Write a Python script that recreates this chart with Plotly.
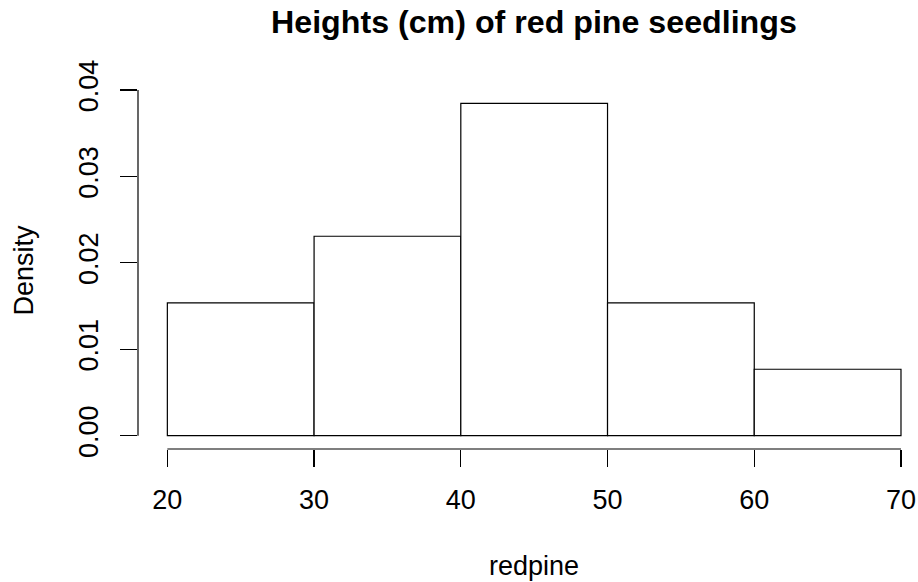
import plotly.graph_objects as go

# Data
breaks = [20, 30, 40, 50, 60, 70]
density = [0.01538, 0.02308, 0.03846, 0.01538, 0.00769]
x_ticks = [20, 30, 40, 50, 60, 70]
x_ticktext = ["20", "30", "40", "50", "60", "70"]
y_ticks = [0.00, 0.01, 0.02, 0.03, 0.04]
y_ticktext = ["0.00", "0.01", "0.02", "0.03", "0.04"]

title_text = "Heights (cm) of red pine seedlings"
xlab = "redpine"
ylab = "Density"

FONT = "Liberation Sans, Arial, Helvetica, sans-serif"
W, H = 918, 582
L, T = 138.37, 90.0
B = H - 449.33
R = 0.0
plot_w = W - L - R
plot_h = H - T - B
px_per_x = 14.666
x_lo = 18.0
x_hi = x_lo + plot_w / px_per_x
y_lo = -0.0015385
y_hi = 0.04

lefts = breaks[:-1]
widths = [b - a for a, b in zip(breaks[:-1], breaks[1:])]

fig = go.Figure()
fig.add_trace(go.Bar(
    x=lefts, y=density, width=widths, offset=0,
    marker=dict(color="white", line=dict(color="black", width=1.2)),
    hoverinfo="skip", showlegend=False,
))

def px_to_paper_x(px):
    return (px - L) / plot_w

def py_to_paper_y(py):
    return (H - B - py) / plot_h

annotations = [
    dict(text="<b>" + title_text + "</b>", x=px_to_paper_x(534), y=py_to_paper_y(21.5),
         xref="paper", yref="paper", xanchor="center", yanchor="middle",
         showarrow=False, font=dict(family=FONT, size=32.2, color="black")),
    dict(text=xlab, x=px_to_paper_x(534), y=py_to_paper_y(566),
         xref="paper", yref="paper", xanchor="center", yanchor="middle",
         showarrow=False, font=dict(family=FONT, size=27, color="black")),
    dict(text=ylab, x=px_to_paper_x(24), y=py_to_paper_y(270),
         xref="paper", yref="paper", xanchor="center", yanchor="middle",
         textangle=-90, showarrow=False, font=dict(family=FONT, size=27, color="black")),
]

shapes = [
    dict(type="line", xref="x", yref="paper", x0=breaks[0], x1=breaks[-1], y0=0, y1=0,
         line=dict(color="black", width=1.2)),
    dict(type="line", xref="paper", yref="y", x0=0, x1=0, y0=y_ticks[0], y1=y_ticks[-1],
         line=dict(color="black", width=1.2)),
]

fig.update_layout(
    width=W, height=H,
    margin=dict(l=L, r=R, t=T, b=B, pad=0),
    paper_bgcolor="white", plot_bgcolor="white",
    font=dict(family=FONT, size=27, color="black"),
    annotations=annotations, shapes=shapes,
    bargap=0,
    xaxis=dict(range=[x_lo, x_hi], showgrid=False, zeroline=False, showline=False,
               tickmode="array", tickvals=x_ticks, ticktext=x_ticktext,
               ticks="outside", ticklen=17, tickwidth=1.2, tickcolor="black",
               ticklabelstandoff=10,
               tickfont=dict(family=FONT, size=27, color="black")),
    yaxis=dict(range=[y_lo, y_hi], showgrid=False, zeroline=False, showline=False,
               tickmode="array", tickvals=y_ticks, ticktext=y_ticktext,
               ticks="outside", ticklen=17, tickwidth=1.2, tickcolor="black",
               tickangle=-90, ticklabelstandoff=11,
               tickfont=dict(family=FONT, size=27, color="black")),
)

fig.write_html(
    "out.html",
    config={"displayModeBar": False, "staticPlot": True},
    post_script="document.body.style.margin='0px';document.body.style.overflow='hidden';",
)
